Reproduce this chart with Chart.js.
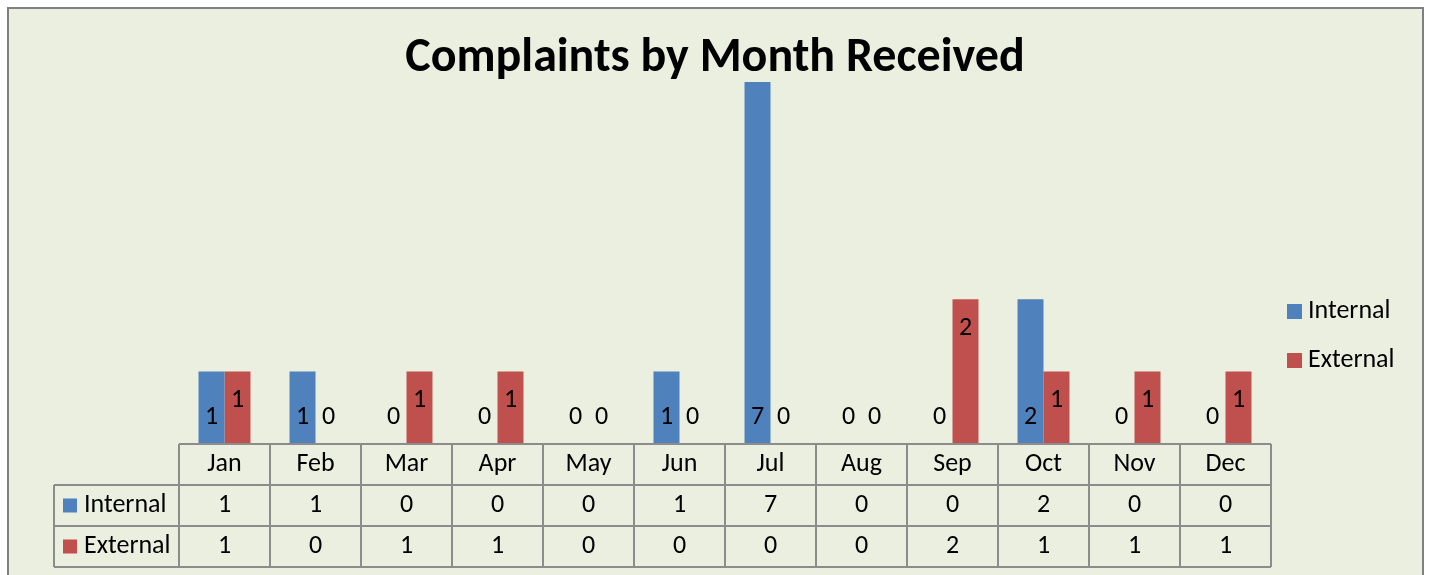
<!DOCTYPE html>
<html><head><meta charset="utf-8">
<script src="https://cdn.jsdelivr.net/npm/chart.js@4.4.1/dist/chart.umd.min.js"></script>
<style>html,body{margin:0;padding:0;background:#fff;overflow:hidden}</style>
</head><body>
<canvas id="c" width="1429" height="575"></canvas>
<script>
const months = ['Jan','Feb','Mar','Apr','May','Jun','Jul','Aug','Sep','Oct','Nov','Dec'];
const internalData = [1,1,0,0,0,1,7,0,0,2,0,0];
const externalData = [1,0,1,1,0,0,0,0,2,1,1,1];
const seriesNames = ['Internal','External'];
const titleText = 'Complaints by Month Received';
const yMax = 5;

const FONT = "Carlito, Calibri, Lato, 'Open Sans', sans-serif";
const colors = ['#4F81BD','#C0504D'];
const lineColor = '#8C8C8C';
const TXT = '26px ' + FONT;

const deco = {
  id: 'deco',
  beforeDraw(chart) {
    const ctx = chart.ctx;
    ctx.save();
    ctx.fillStyle = '#fff';
    ctx.fillRect(0,0,chart.width,chart.height);
    ctx.fillStyle = '#EBEFDF';
    ctx.fillRect(8,8,1415,600);
    ctx.strokeStyle = '#808080';
    ctx.lineWidth = 2;
    ctx.strokeRect(8,8,1415,600);
    ctx.restore();
  },
  afterDatasetsDraw(chart) {
    const ctx = chart.ctx;
    const ca = chart.chartArea;
    ctx.save();
    ctx.font = TXT;
    ctx.fillStyle = '#000';
    ctx.textAlign = 'center';
    ctx.textBaseline = 'middle';
    chart.data.datasets.forEach((ds, di) => {
      const meta = chart.getDatasetMeta(di);
      meta.data.forEach((bar, i) => {
        const v = ds.data[i];
        let y;
        if (di === 0 || v === 0) y = bar.base - 27;
        else y = Math.max(bar.y, ca.top) + 29;
        ctx.fillText(String(v), bar.x, y);
      });
    });
    ctx.restore();
  },
  afterDraw(chart) {
    const ctx = chart.ctx;
    const ca = chart.chartArea;
    const n = months.length;
    const cw = (ca.right - ca.left) / n;
    const rows = [ca.bottom, ca.bottom + 41, ca.bottom + 82, ca.bottom + 123];
    const tableLeft = 54;
    ctx.save();
    ctx.strokeStyle = lineColor;
    ctx.lineWidth = 2;
    ctx.beginPath();
    ctx.moveTo(ca.left, rows[0]); ctx.lineTo(ca.right, rows[0]);
    for (let r = 1; r < 4; r++) { ctx.moveTo(tableLeft, rows[r]); ctx.lineTo(ca.right, rows[r]); }
    for (let i = 0; i <= n; i++) {
      const x = ca.left + i * cw;
      ctx.moveTo(x, rows[0]); ctx.lineTo(x, rows[3]);
    }
    ctx.moveTo(tableLeft, rows[1]); ctx.lineTo(tableLeft, rows[3]);
    ctx.stroke();

    ctx.font = TXT;
    ctx.fillStyle = '#000';
    ctx.textAlign = 'center';
    ctx.textBaseline = 'middle';
    const xs = chart.scales.x;
    const rowData = [internalData, externalData];
    months.forEach((m, i) => {
      const x = xs.getPixelForValue(i);
      ctx.fillText(m, x, (rows[0] + rows[1]) / 2);
      rowData.forEach((arr, r) => ctx.fillText(String(arr[i]), x, (rows[r+1] + rows[r+2]) / 2));
    });
    ctx.textAlign = 'left';
    seriesNames.forEach((s, r) => {
      const cy = (rows[r+1] + rows[r+2]) / 2;
      ctx.fillStyle = colors[r];
      ctx.fillRect(63, cy - 7, 14, 14);
      ctx.fillStyle = '#000';
      ctx.fillText(s, 84, cy);
    });
    seriesNames.forEach((s, r) => {
      const cy = 311.5 + r * 49;
      ctx.fillStyle = colors[r];
      ctx.fillRect(1287, cy - 7.5, 15, 15);
      ctx.fillStyle = '#000';
      ctx.fillText(s, 1308, cy);
    });
    ctx.font = 'bold 48px ' + FONT;
    ctx.textAlign = 'center';
    ctx.fillText(titleText, 715, 59);
    ctx.restore();
  }
};

new Chart(document.getElementById('c'), {
  type: 'bar',
  data: {
    labels: months,
    datasets: [
      { label: seriesNames[0], data: internalData, backgroundColor: colors[0], categoryPercentage: 0.571, barPercentage: 1 },
      { label: seriesNames[1], data: externalData, backgroundColor: colors[1], categoryPercentage: 0.571, barPercentage: 1 }
    ]
  },
  options: {
    responsive: false,
    devicePixelRatio: 1,
    animation: false,
    layout: { padding: { left: 179, right: 158, top: 82, bottom: 131 } },
    scales: {
      x: { display: false },
      y: { display: false, min: 0, max: yMax }
    },
    plugins: { legend: { display: false }, title: { display: false }, tooltip: { enabled: false } }
  },
  plugins: [deco]
});
</script>
</body></html>
